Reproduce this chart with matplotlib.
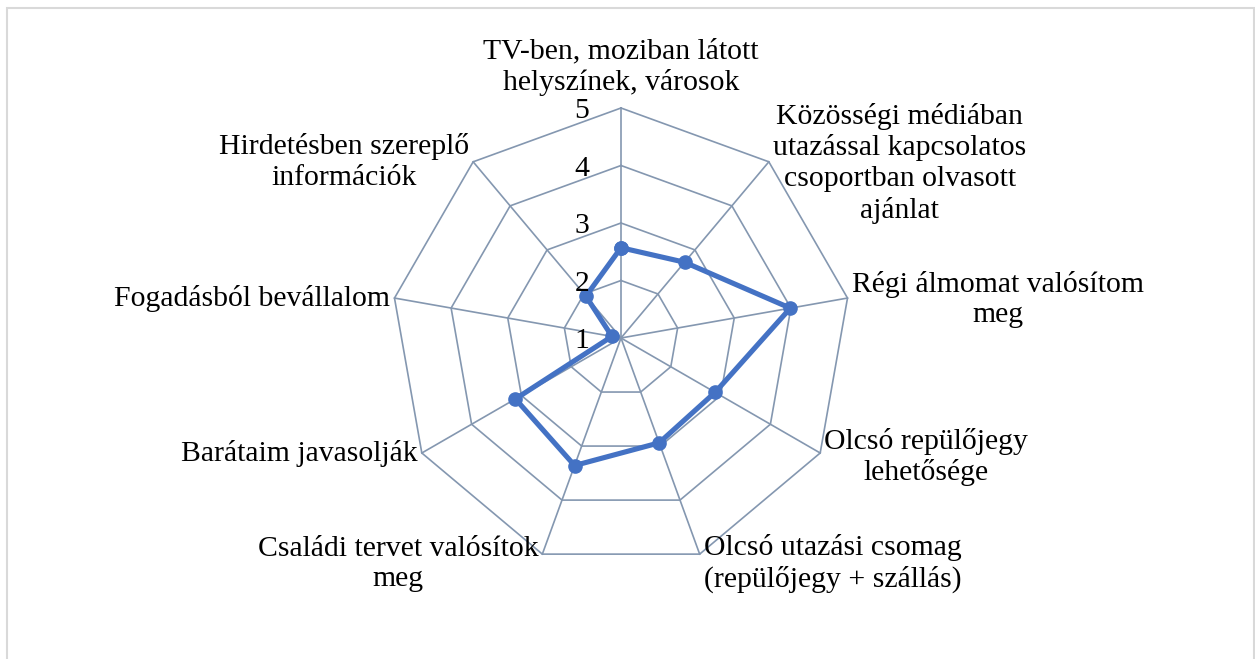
import numpy as np
import matplotlib
matplotlib.use("Agg")
import matplotlib.pyplot as plt
from matplotlib.patches import Rectangle

categories = [
    "TV-ben, moziban látott\nhelyszínek, városok",
    "Közösségi médiában\nutazással kapcsolatos\ncsoportban olvasott\najánlat",
    "Régi álmomat valósítom\nmeg",
    "Olcsó repülőjegy\nlehetősége",
    "Olcsó utazási csomag\n(repülőjegy + szállás)",
    "Családi tervet valósítok\nmeg",
    "Barátaim javasolják",
    "Fogadásból bevállalom",
    "Hirdetésben szereplő\ninformációk",
]
values = [2.57, 2.72, 3.99, 2.89, 2.94, 3.36, 3.12, 1.16, 1.95]
ticks = [1, 2, 3, 4, 5]

W, H = 1255, 659
fig = plt.figure(figsize=(W / 100, H / 100), dpi=100)
fig.patch.set_facecolor("white")

cx, cy, R = 621, 338, 230
ax = fig.add_axes([(cx - R) / W, (H - cy - R) / H, 2 * R / W, 2 * R / H],
                  projection="polar")
ax.set_theta_zero_location("N")
ax.set_theta_direction(-1)
ax.set_ylim(1, 5)
ax.grid(False)
ax.spines["polar"].set_visible(False)
ax.set_xticks([])
ax.set_yticks([])
ax.patch.set_alpha(0)

n = len(categories)
theta = np.arange(n) * 2 * np.pi / n
theta_c = np.append(theta, theta[0])

grid_color = "#8497B0"
for r in ticks[1:]:
    ax.plot(theta_c, [r] * (n + 1), color=grid_color, lw=1.2, zorder=1, clip_on=False)
for t in theta:
    ax.plot([t, t], [1, 5], color=grid_color, lw=1.2, zorder=1, clip_on=False)

vals_c = np.append(values, values[0])
ax.plot(theta_c, vals_c, color="#4472C4", lw=3.7, marker="o", markersize=9.5,
        zorder=3, clip_on=False)

font = dict(family=["Liberation Serif", "DejaVu Serif"], size=21.4, color="black")

for r in ticks:
    ax.annotate(str(r), xy=(0, r), xytext=(-23, -2.5), textcoords="offset points",
                ha="right", va="center", **font)

for t, lab in zip(theta, categories):
    deg = np.degrees(t)
    if deg < 1:
        ha, va, off = "center", "bottom", (0, 9)
    elif deg < 180:
        ha, va = "left", "center"
        off = (3, -7 if deg > 150 else (-3 if deg > 100 else -1))
    else:
        ha, va = "right", "center"
        off = (-3, -7 if deg < 210 else 0)
    ax.annotate(lab, xy=(t, 5), xytext=off, textcoords="offset points",
                ha=ha, va=va, multialignment="center", linespacing=1.22, **font)

fig.add_artist(Rectangle((7 / W, -0.05), (1254 - 7) / W, 1.05 - 8 / H,
                         transform=fig.transFigure, fill=False,
                         edgecolor="#D9D9D9", lw=1.5))

fig.savefig("out.png", dpi=100)
